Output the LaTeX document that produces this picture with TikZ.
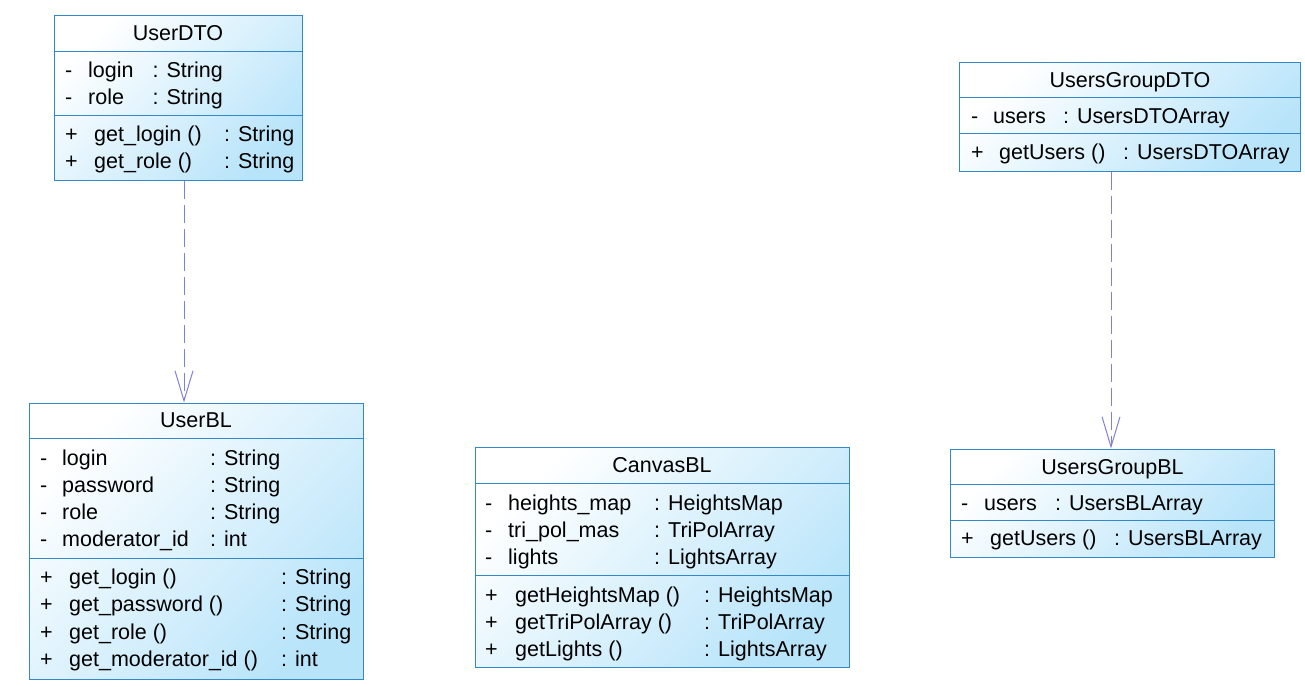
\documentclass[tikz,border=0pt]{standalone}
\usepackage{fontspec}
\setmainfont{Liberation Sans}
\usetikzlibrary{arrows.meta, positioning, calc}
\definecolor{umledge}{HTML}{3388CC}
\definecolor{umlfill}{HTML}{B8E4FA}
\definecolor{deparrow}{HTML}{8080D8}

\begin{document}
\begin{tikzpicture}[x=1pt, y=-1pt,
  cls/.style={rectangle, draw=umledge, line width=1pt, top color=white, bottom color=umlfill, shading angle=45, inner sep=0pt},
  divider/.style={draw=umledge, line width=1pt},
  clsname/.style={anchor=base, inner sep=0pt, font=\fontsize{21.5}{25}\selectfont},
  member/.style={anchor=base west, inner sep=0pt, font=\fontsize{21.5}{25}\selectfont},
  dep/.style={draw=deparrow, line width=1pt, dash pattern=on 18pt off 6pt, -{Straight Barb[length=30pt, width=18pt]}}
]
\useasboundingbox (0,0) rectangle (1305,686);

% UserDTO
\node[cls, minimum width=248pt, minimum height=165pt] (userdto) at (178,98) {};
\draw[divider] ([yshift=-36pt]userdto.north west) -- ([yshift=-36pt]userdto.north east);
\draw[divider] ([yshift=-100pt]userdto.north west) -- ([yshift=-100pt]userdto.north east);
\node[clsname] at (178,40) {UserDTO};
\foreach \nm/\ty [count=\i from 0] in {login/String, role/String}{
  \node[member] at (65,{77+27.5*\i}) {-};
  \node[member] at (88,{77+27.5*\i}) {\nm};
  \node[member] at (152.5,{77+27.5*\i}) {: \ty};
}
\foreach \nm/\ty [count=\i from 0] in {get\_login ()/String, get\_role ()/String}{
  \node[member] at (65,{141+27.5*\i}) {+};
  \node[member] at (94,{141+27.5*\i}) {\nm};
  \node[member] at (224,{141+27.5*\i}) {: \ty};
}

% UserBL
\node[cls, minimum width=334pt, minimum height=276pt] (userbl) at (196,541) {};
\draw[divider] ([yshift=-36pt]userbl.north west) -- ([yshift=-36pt]userbl.north east);
\draw[divider] ([yshift=-156pt]userbl.north west) -- ([yshift=-156pt]userbl.north east);
\node[clsname] at (196,427.5) {UserBL};
\foreach \nm/\ty [count=\i from 0] in {login/String, password/String, role/String, moderator\_id/int}{
  \node[member] at (40,{465+27.3*\i}) {-};
  \node[member] at (62,{465+27.3*\i}) {\nm};
  \node[member] at (210,{465+27.3*\i}) {: \ty};
}
\foreach \nm/\ty [count=\i from 0] in {get\_login ()/String, get\_password ()/String, get\_role ()/String, get\_moderator\_id ()/int}{
  \node[member] at (40,{584.3+27.4*\i}) {+};
  \node[member] at (69,{584.3+27.4*\i}) {\nm};
  \node[member] at (281,{584.3+27.4*\i}) {: \ty};
}

% CanvasBL
\node[cls, minimum width=374pt, minimum height=220pt] (canvasbl) at (662,557.5) {};
\draw[divider] ([yshift=-36pt]canvasbl.north west) -- ([yshift=-36pt]canvasbl.north east);
\draw[divider] ([yshift=-128.5pt]canvasbl.north west) -- ([yshift=-128.5pt]canvasbl.north east);
\node[clsname] at (662,472.5) {CanvasBL};
\foreach \nm/\ty [count=\i from 0] in {heights\_map/HeightsMap, tri\_pol\_mas/TriPolArray, lights/LightsArray}{
  \node[member] at (485,{510+27.2*\i}) {-};
  \node[member] at (508,{510+27.2*\i}) {\nm};
  \node[member] at (654,{510+27.2*\i}) {: \ty};
}
\foreach \nm/\ty [count=\i from 0] in {getHeightsMap ()/HeightsMap, getTriPolArray ()/TriPolArray, getLights ()/LightsArray}{
  \node[member] at (485,{602.3+27.2*\i}) {+};
  \node[member] at (515,{602.3+27.2*\i}) {\nm};
  \node[member] at (704,{602.3+27.2*\i}) {: \ty};
}

% UsersGroupDTO
\node[cls, minimum width=341pt, minimum height=109pt] (groupdto) at (1130,116.7) {};
\draw[divider] ([yshift=-36pt]groupdto.north west) -- ([yshift=-36pt]groupdto.north east);
\draw[divider] ([yshift=-72pt]groupdto.north west) -- ([yshift=-72pt]groupdto.north east);
\node[clsname] at (1130,87.5) {UsersGroupDTO};
\node[member] at (971,123.3) {-};
\node[member] at (993,123.3) {users};
\node[member] at (1063,123.3) {: UsersDTOArray};
\node[member] at (971,159.3) {+};
\node[member] at (999,159.3) {getUsers ()};
\node[member] at (1123,159.3) {: UsersDTOArray};

% UsersGroupBL
\node[cls, minimum width=324pt, minimum height=108pt] (groupbl) at (1112.5,503) {};
\draw[divider] ([yshift=-36pt]groupbl.north west) -- ([yshift=-36pt]groupbl.north east);
\draw[divider] ([yshift=-72pt]groupbl.north west) -- ([yshift=-72pt]groupbl.north east);
\node[clsname] at (1112.5,474) {UsersGroupBL};
\node[member] at (961,510) {-};
\node[member] at (984,510) {users};
\node[member] at (1055,510) {: UsersBLArray};
\node[member] at (961,545.7) {+};
\node[member] at (990,545.7) {getUsers ()};
\node[member] at (1114,545.7) {: UsersBLArray};

% dependencies
\draw[dep] ([xshift=6pt]userdto.south) -- ([xshift=-12pt]userbl.north);
\draw[dep] ([xshift=-19pt]groupdto.south) -- ([xshift=-1.5pt]groupbl.north);
\end{tikzpicture}
\end{document}
